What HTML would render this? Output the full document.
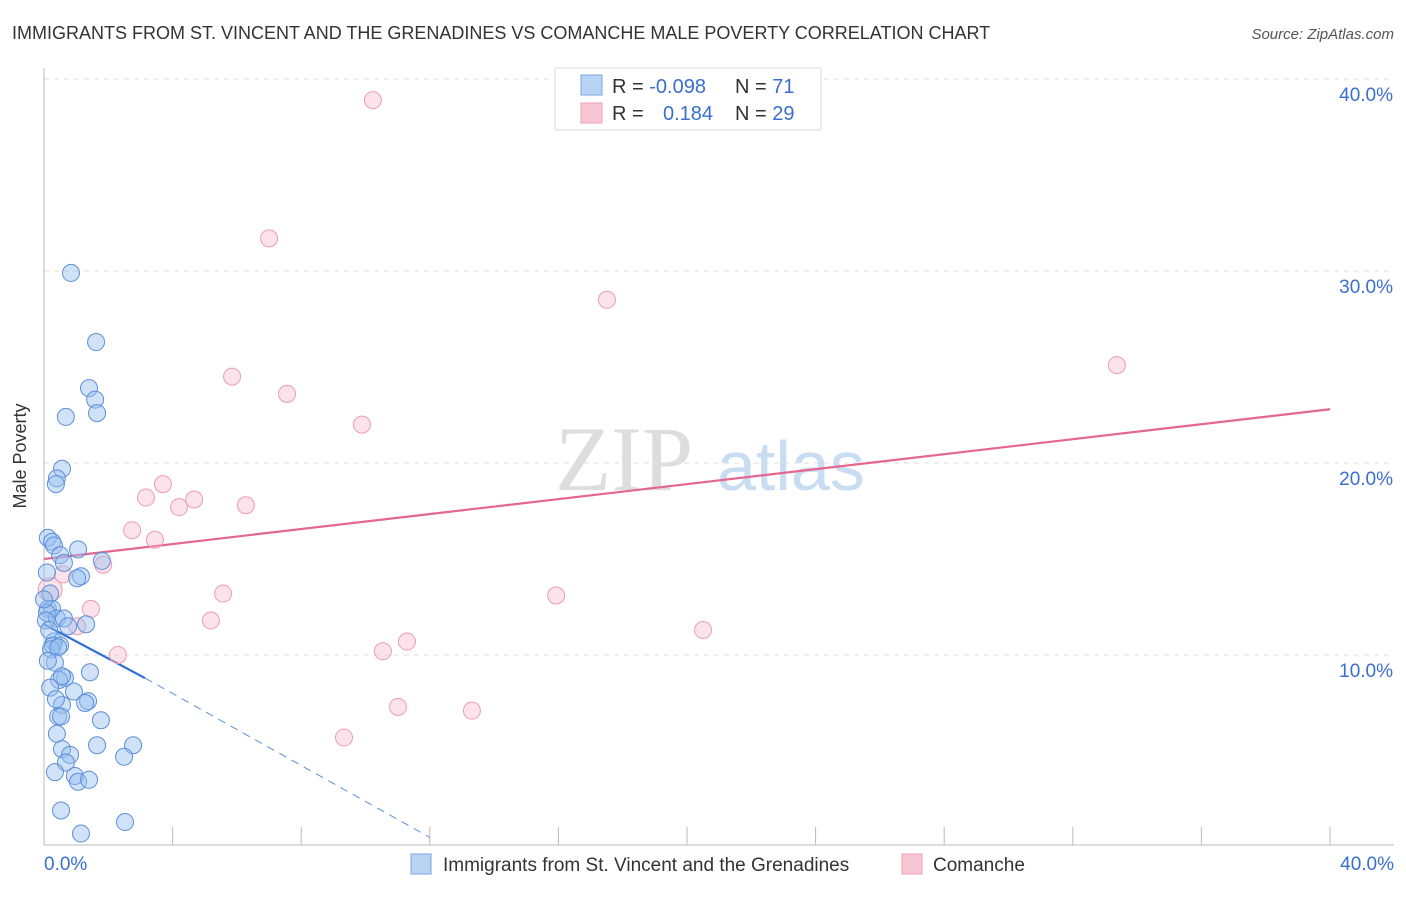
<!DOCTYPE html>
<html><head><meta charset="utf-8"><style>
body{margin:0;background:#fff;font-family:"Liberation Sans",sans-serif}
</style></head><body>
<svg width="1406" height="892" xmlns="http://www.w3.org/2000/svg" id="svg" font-family="Liberation Sans, sans-serif">
<text x="12" y="39" font-size="18" fill="#333">IMMIGRANTS FROM ST. VINCENT AND THE GRENADINES VS COMANCHE MALE POVERTY CORRELATION CHART</text>
<text x="1394" y="39" font-size="15" fill="#555" font-style="italic" text-anchor="end">Source: ZipAtlas.com</text>
<g><text x="555" y="490" font-size="92" fill="#ddd" font-family="Liberation Serif, serif">ZIP</text><text x="717" y="490" font-size="70" fill="#c8dcf2">atlas</text></g>
<g id="grid"></g>
<g id="axes"></g>
<g id="trend"></g>
<g id="pts"></g>
<text x="26" y="456" font-size="18" fill="#333" text-anchor="middle" transform="rotate(-90 26 456)">Male Poverty</text>
<g>
<rect x="555" y="68" width="266" height="62" fill="#fff" stroke="#ddd"/>
<rect x="581" y="75" width="21" height="20" fill="#b9d3f5" stroke="#7aa6e0"/>
<rect x="581" y="103" width="21" height="20" fill="#f9c6d3" stroke="#eea0b6"/>
<text x="612" y="93" font-size="20" fill="#333">R = <tspan fill="#3a6fd0">-0.098</tspan></text>
<text x="735" y="93" font-size="20" fill="#333">N = <tspan fill="#3a6fd0"> 71</tspan></text>
<text x="612" y="120" font-size="20" fill="#333">R = <tspan fill="#3a6fd0" x="663">0.184</tspan></text>
<text x="735" y="120" font-size="20" fill="#333">N = <tspan fill="#3a6fd0">29</tspan></text>
</g>
<g>
<rect x="411" y="854" width="20" height="20" fill="#b9d3f5" stroke="#7aa6e0"/>
<text x="443" y="871" font-size="19" fill="#333">Immigrants from St. Vincent and the Grenadines</text>
<rect x="902" y="854" width="20" height="20" fill="#f9c6d3" stroke="#eea0b6"/>
<text x="933" y="871" font-size="19" fill="#333">Comanche</text>
</g>
</svg>
<script>
const yTicks=[10,20,30,40];
const yTickLabels=["10.0%","20.0%","30.0%","40.0%"];
const xTickLabels=["0.0%","40.0%"];
const blueX=[.84,1.62,1.40,1.59,.68,1.65,.56,.40,.37,.12,.25,.31,.50,1.06,.62,1.80,1.15,1.03,.09,.19,.12,.25,.09,.40,.62,.75,1.31,.31,.28,.50,.22,.44,.34,1.43,.65,.47,.56,.19,.93,1.37,1.28,.56,1.77,.44,.53,.40,1.65,.56,.81,.68,2.77,2.49,.34,.96,1.06,1.40,.53,2.52,1.15,0,.06,.16,.12,.37];
const blueY=[29.9,26.3,23.9,23.3,22.4,22.6,19.7,19.2,18.9,16.1,15.9,15.7,15.2,15.5,14.8,14.9,14.1,14.0,14.3,13.2,12.4,12.4,12.2,11.9,11.9,11.5,11.6,10.7,10.5,10.5,10.3,10.4,9.6,9.1,8.8,8.7,8.9,8.3,8.1,7.6,7.5,7.4,6.6,6.8,6.8,5.9,5.3,5.1,4.8,4.4,5.3,4.7,3.9,3.7,3.4,3.5,1.9,1.3,0.7,12.9,11.8,11.3,9.7,7.7];
const pinkX=[10.23,7.0,17.51,5.85,7.56,9.89,33.37,3.70,3.17,4.67,4.2,6.28,2.74,3.45,1.84,.59,.19,5.57,15.93,1.46,5.19,1.03,20.5,11.29,2.30,10.54,11.01,13.31,9.33];
const pinkY=[38.9,31.7,28.5,24.5,23.6,22.0,25.1,18.9,18.2,18.1,17.7,17.8,16.5,16.0,14.7,14.2,13.4,13.2,13.1,12.4,11.8,11.5,11.3,10.7,10.0,10.2,7.3,7.1,5.7];
const blueTrend=[[0,11.6],[3.14,8.8]];
const blueTrendDash=[[3.14,8.8],[12.0,0.5]];
const pinkTrend=[[0,15.0],[40,22.8]];
const X=v=>44+v*32.15, Y=v=>847-v*19.2;
const NS="http://www.w3.org/2000/svg";
function mk(tag,parent,attrs){const e=document.createElementNS(NS,tag);for(const k in attrs)e.setAttribute(k,attrs[k]);document.getElementById(parent).appendChild(e);return e;}
yTicks.forEach((t,i)=>{
 const l=mk('line','grid',{x1:44,x2:1394,y1:Y(t),y2:Y(t),stroke:'#ddd','stroke-dasharray':'5,5'});
 
 
 const tx=mk('text','grid',{x:1393,y:Y(t)+22,'font-size':19,fill:'#3a6fd0','text-anchor':'end'});
 tx.textContent=yTickLabels[i];
 
 
});
mk('line','axes',{x1:44,x2:44,y1:68,y2:845,stroke:'#bbb'});
mk('line','axes',{x1:44,x2:1394,y1:845,y2:845,stroke:'#bbb'});
for(let i=1;i<=10;i++){const x=X(i*4);const t=mk('line','axes',{x1:x,x2:x,y1:827,y2:845,stroke:'#bbb'});
 
 }
[[0,'start',44],[40,'end',1394]].forEach((d,i)=>{const t=mk('text','axes',{x:d[2],y:870,'font-size':19,fill:'#3a6fd0','text-anchor':d[1]});t.textContent=xTickLabels[i];
 
 });
pinkX.forEach((x,i)=>{const c=mk('circle','pts',{cx:X(x),cy:Y(pinkY[i]),r:i==16?12:8.5,fill:'rgba(248,182,202,0.4)',stroke:'#eb9db4','stroke-width':1});
 
 });
blueX.forEach((x,i)=>{const c=mk('circle','pts',{cx:X(x),cy:Y(blueY[i]),r:8.5,fill:'rgba(150,190,240,0.45)',stroke:'#5d8fd9','stroke-width':1});
 
 });
let l=mk('line','trend',{x1:X(pinkTrend[0][0]),y1:Y(pinkTrend[0][1]),x2:X(pinkTrend[1][0]),y2:Y(pinkTrend[1][1]),stroke:'#e5668f','stroke-width':2.2});


l=mk('line','trend',{x1:X(blueTrend[0][0]),y1:Y(blueTrend[0][1]),x2:X(blueTrend[1][0]),y2:Y(blueTrend[1][1]),stroke:'#2f6fd6','stroke-width':2.2});


l=mk('line','trend',{x1:X(blueTrendDash[0][0]),y1:Y(blueTrendDash[0][1]),x2:X(blueTrendDash[1][0]),y2:Y(blueTrendDash[1][1]),stroke:'#5d8fd9','stroke-width':1,'stroke-dasharray':'8,6'});


</script>
</body></html>
